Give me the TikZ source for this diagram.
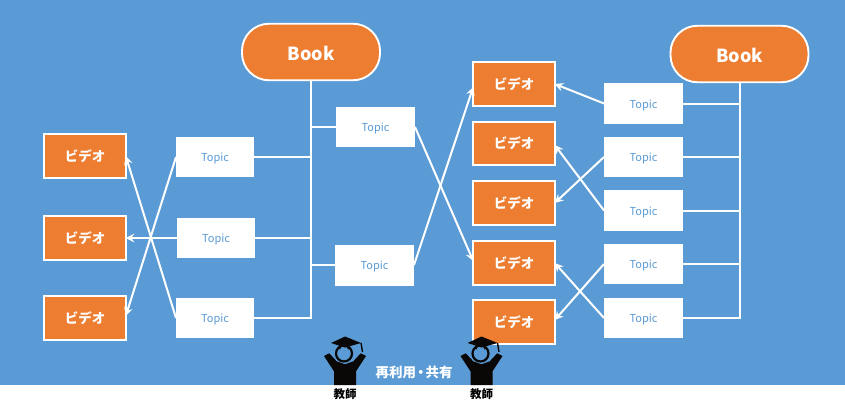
\documentclass[tikz,border=0pt]{standalone}
\usepackage{fontspec}
\setmainfont{Noto Sans CJK JP}
\usetikzlibrary{arrows.meta,calc}
\definecolor{sky}{HTML}{5B9BD5}
\definecolor{videofill}{HTML}{ED7D31}
\definecolor{ink}{HTML}{0A0707}
\newcommand{\px}[1]{\fontsize{#1}{#1}\selectfont}
\tikzset{
 every node/.append style={align=center,inner sep=0pt,outer sep=0pt},
 video/.style={draw=white,fill=videofill,line width=1.9pt,minimum width=81.5pt,minimum height=43.5pt,text=white,font=\px{13.5}\bfseries},
 topic/.style={fill=white,minimum width=78pt,minimum height=40pt,text=sky,font=\px{11},text height=9pt,text depth=0pt},
 book/.style={draw=white,fill=videofill,line width=1.9pt,rounded corners=27pt,minimum width=138pt,minimum height=56.5pt,text=white,font=\px{18}\bfseries,text height=16pt,text depth=0pt},
 route/.style={draw=white,line width=2pt},
 flow/.style={-{Stealth[length=8.5pt,width=8.5pt,inset=3pt]},draw=white,line width=2pt},
 teacher/.pic={
  \fill[ink] (-21,-29) -- (-15.7,-31.7) -- (-8.3,-23.7) -- (0,-20.7) -- (8.3,-23.7) -- (15.7,-31.7) -- (21,-29) -- (11,-13.7) -- (11,0) -- (-11,0) -- (-11,-13.7) -- cycle;
  \draw[ink,line width=2.2pt] (-1,-31.5) circle (8pt);
  \draw[ink,line width=2.4pt] (-6,-36) arc[start angle=180,end angle=360,x radius=5pt,y radius=-5.5pt];
  \fill[ink] (-14,-42) -- (0,-48.5) -- (16,-42) -- (0,-37.5) -- cycle;
  \draw[ink,line width=1.4pt] (16,-42) -- (17.5,-33);
 },
}

\begin{document}
\begin{tikzpicture}[x=1pt,y=-1pt]
\useasboundingbox (0,0) rectangle (845,407);
\fill[white] (0,0) rectangle (845,407);
\fill[sky] (0,0) rectangle (845,385);

\node[book] (bookleft) at (311,52) {Book};
\node[book] (bookright) at (739.5,54) {Book};

\node[video] (videoa) at (85,156) {ビデオ};
\node[video] (videob) at (85,238) {ビデオ};
\node[video] (videoc) at (85,318) {ビデオ};
\node[video] (videod) at (514,84) {ビデオ};
\node[video] (videoe) at (514,143.5) {ビデオ};
\node[video] (videof) at (514,203) {ビデオ};
\node[video] (videog) at (514,263) {ビデオ};
\node[video] (videoh) at (514,322) {ビデオ};

\node[topic] (topica) at (215,157) {Topic};
\node[topic] (topicb) at (216,238) {Topic};
\node[topic] (topicc) at (215,318) {Topic};
\node[topic,minimum width=79pt] (topicd) at (375.5,127) {Topic};
\node[topic,minimum width=79pt,minimum height=41pt] (topice) at (374.5,265) {Topic};
\node[topic,minimum width=79pt,minimum height=41pt] (topicf) at (643.5,103.5) {Topic};
\node[topic,minimum width=79pt] (topicg) at (643.5,157) {Topic};
\node[topic,minimum width=79pt,minimum height=41pt] (topich) at (643.5,210.5) {Topic};
\node[topic,minimum width=79pt] (topici) at (643.5,264) {Topic};
\node[topic,minimum width=79pt] (topicj) at (643.5,318) {Topic};

\draw[route] (bookleft.south) |- (topicc.east);
\draw[route] (bookright.south) |- (topicj.east);
\foreach \name in {topica,topicb,topicd,topice}
  \draw[route] (\name.center -| bookleft.south) -- (\name);
\foreach \name in {topicf,topicg,topich,topici}
  \draw[route] (\name.east) -- (\name.center -| bookright.south);

\draw[flow] (topica.west) -- ([yshift=2pt]videoc.east);
\draw[flow] (topicb.west) -- (videob.east);
\draw[flow] (topicc.west) -- (videoa.east);
\draw[flow] (topice.east) -- ([yshift=-3pt]videod.west);
\draw[flow] (topicd.east) -- ([yshift=2pt]videog.west);
\draw[flow] (topicf.west) -- (videod.east);
\draw[flow] (topicg.west) -- (videof.east);
\draw[flow] (topich.west) -- ([yshift=-1.5pt]videoe.east);
\draw[flow] (topici.west) -- ([yshift=2pt]videoh.east);
\draw[flow] (topicj.west) -- (videog.east);

\pic at (345,385) {teacher};
\pic at (481.5,385) {teacher};
\node[font=\px{11.5}\bfseries,text=black] (teacherleft) at (345,394) {教師};
\node[font=\px{11.5}\bfseries,text=black] (teacherright) at (481.5,394) {教師};
\node[font=\px{13.5}\bfseries,text=white] (shared) at (414,372) {再利用\kern-2pt・\kern-2pt共有};

\end{tikzpicture}
\end{document}
